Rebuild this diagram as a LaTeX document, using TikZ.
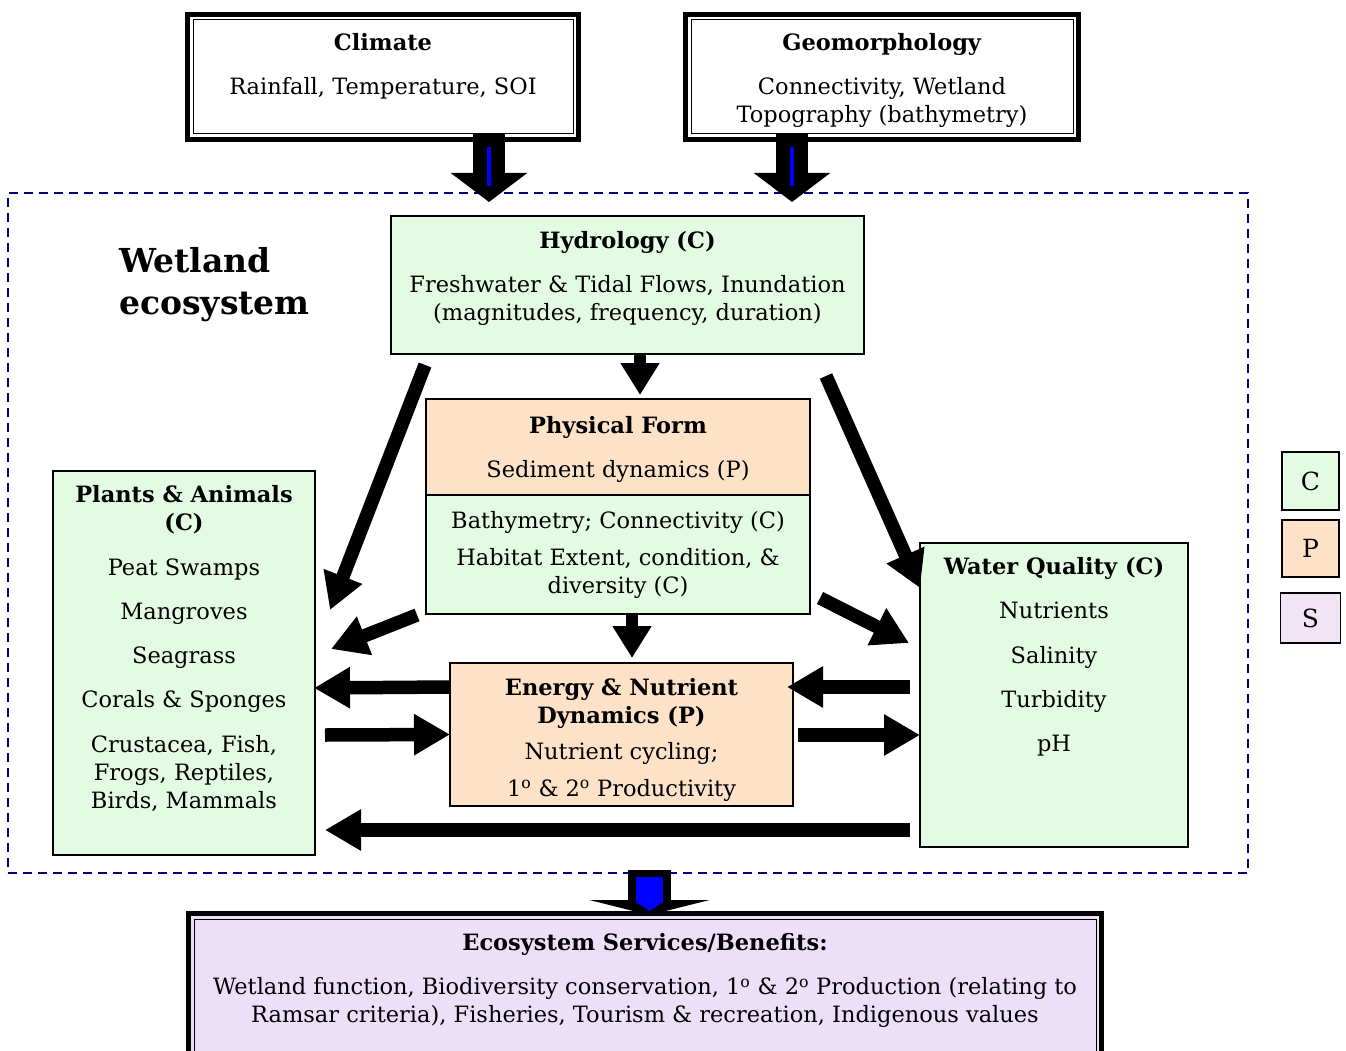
\documentclass[tikz,border=0pt]{standalone}
\usepackage{fontspec}
\setmainfont{DejaVu Serif}
\usetikzlibrary{arrows.meta,positioning,calc}
\definecolor{WetGreen}{HTML}{E2FBE2}
\definecolor{WetOrange}{HTML}{FDE2C8}
\definecolor{WetPurple}{HTML}{ECDFF8}
\definecolor{WetLilac}{HTML}{F1E4F4}
\definecolor{WetNavy}{HTML}{00007F}
\begin{document}
\begin{tikzpicture}[x=1pt,y=-1pt,
  font=\fontsize{22.5}{28}\selectfont,
  box/.style={rectangle,draw=black,line width=1.6pt,anchor=north west,inner sep=0pt,outer sep=0pt,align=center},
  green/.style={box,fill=WetGreen},
  orange/.style={box,fill=WetOrange},
  framed/.style={box,line width=5pt,fill=white},
  legend/.style={box,anchor=center,line width=1.4pt,font=\fontsize{25}{28}\selectfont},
  label/.style={align=center,inner sep=0pt},
  arrow/.style={line width=13.5pt,-{Triangle[length=36pt,width=39pt]}},
  short/.style={line width=12pt,-{Triangle[length=32pt,width=37pt]}},
  fat/.style={line width=32pt,-{Triangle[length=29pt,width=75pt]}},
  stripe/.style={line width=4pt,draw=blue}
]
\clip (0,0) rectangle (1346,1051);
% outer drivers
\node[framed,minimum width=391pt,minimum height=125pt] (climate) at (187.5,14.5) {};
\node[framed,minimum width=393pt,minimum height=125pt] (geo) at (685.5,14.5) {};
\node[label,below=19pt of climate.north] (climateT) {\textbf{Climate}\\[16pt]Rainfall, Temperature, SOI};
\node[label,below=19pt of geo.north] (geoT) {\textbf{Geomorphology}\\[16pt]Connectivity, Wetland\\Topography (bathymetry)};
% wetland ecosystem
\node[box,draw=WetNavy,line width=2.2pt,dash pattern=on 9pt off 6pt,minimum width=1240pt,minimum height=680pt] (eco) at (8,193) {};
\node[label,align=left,anchor=north west,font=\fontsize{33}{42}\selectfont\bfseries] (ecoT) at ($(eco.north west)+(111,54)$) {Wetland\\ecosystem};
\node[green,minimum width=473pt,minimum height=138pt] (hydro) at (391,216) {};
\node[label,below=15pt of hydro.north] (hydroT) {\textbf{Hydrology (C)}\\[16pt]Freshwater \& Tidal Flows, Inundation\\(magnitudes, frequency, duration)};
\node[orange,minimum width=384pt,minimum height=96pt] (formTop) at (426,399) {};
\node[label,below=17pt of formTop.north] (formTopT) {\textbf{Physical Form}\\[16pt]Sediment dynamics (P)};
\node[green,minimum width=384pt,minimum height=119pt] (formBot) at (formTop.south west) {Bathymetry; Connectivity (C)\\[9pt]Habitat Extent, condition, \&\\diversity (C)};
\node[green,minimum width=262pt,minimum height=384pt] (plants) at (53,471) {};
\node[label,below=14pt of plants.north] (plantsT) {\textbf{Plants \& Animals}\\\textbf{(C)}\\[17pt]Peat Swamps\\[16pt]Mangroves\\[16pt]Seagrass\\[16pt]Corals \& Sponges\\[17pt]Crustacea, Fish,\\Frogs, Reptiles,\\Birds, Mammals};
\node[green,minimum width=268pt,minimum height=304pt] (water) at (920,543) {};
\node[label,below=14pt of water.north] (waterT) {\textbf{Water Quality (C)}\\[16pt]Nutrients\\[17pt]Salinity\\[16pt]Turbidity\\[16pt]pH};
\node[orange,minimum width=343pt,minimum height=143pt] (energy) at (450,663) {};
\node[label,below=15pt of energy.north] (energyT) {\textbf{Energy \& Nutrient}\\\textbf{Dynamics (P)}\\[8pt]Nutrient cycling;\\[9pt]1\textsuperscript{o} \& 2\textsuperscript{o} Productivity};
% services
\node[framed,fill=WetPurple,minimum width=913pt,minimum height=160pt] (services) at (188.5,913.5) {};
\node[label,below=20pt of services.north] (servicesT) {\textbf{Ecosystem Services/Benefits:}\\[16pt]Wetland function, Biodiversity conservation, 1\textsuperscript{o} \& 2\textsuperscript{o} Production (relating to\\Ramsar criteria), Fisheries, Tourism \& recreation, Indigenous values};
\foreach \n in {climate,geo,services}
  \draw[line width=1pt] ($(\n.north west)+(5.5,5.5)$) rectangle ($(\n.south east)+(-5.5,-5.5)$);
% legend
\node[legend,fill=WetGreen,minimum width=57pt,minimum height=58pt] (legC) at (1310.5,481) {C};
\node[legend,fill=WetOrange,minimum width=57pt,minimum height=57pt,below=10pt of legC] (legP) {P};
\node[legend,fill=WetLilac,minimum width=60pt,minimum height=50pt,below=16pt of legP] (legS) {S};
% arrows
\draw[fat] ($(climate.south)+(106,-6)$) -- ($(hydro.north west)+(98,-14)$);
\draw[stripe] ($(climate.south)+(106,7.5)$) -- ($(hydro.north west)+(98,-30)$);
\draw[fat] ($(geo.south)+(-90,-6)$) -- ($(hydro.north east)+(-72,-14)$);
\draw[stripe] ($(geo.south)+(-90,7.5)$) -- ($(hydro.north east)+(-72,-30)$);
\draw[short] ($(hydro.south)+(12.5,0)$) -- ($(formTop.north)+(22,-4)$);
\draw[arrow] ($(hydro.south west)+(34,11)$) -- ($(plants.north east)+(15,139)$);
\draw[arrow] ($(hydro.south east)+(-38,22)$) -- ($(water.north west)+(0,45)$);
\draw[arrow] ($(formBot.south west)+(-9,1)$) -- ($(plants.east)+(16,-14)$);
\draw[arrow] ($(formBot.south east)+(10,-16)$) -- ($(water.west)+(-11,-52)$);
\draw[short] ($(formBot.south)+(14,0)$) -- ($(energy.north)+(10.5,-5)$);
\draw[arrow] ($(energy.west)+(0,-47.5)$) -- ($(plants.east)+(-1,25)$);
\draw[arrow] ($(plants.east)+(10,72)$) -- (energy.west);
\draw[arrow] ($(water.west)+(-10,-8)$) -- ($(energy.east)+(-6,-47.5)$);
\draw[arrow] ($(energy.east)+(5,0.5)$) -- ($(water.west)+(0,40)$);
\draw[arrow] ($(water.west)+(-10,135)$) -- ($(plants.east)+(10,167)$);
\draw[line width=43pt,-{Triangle[length=15pt,width=120pt]}] ($(eco.south)+(21.5,-3)$) -- ($(services.north)+(4.5,1.5)$);
\draw[line width=27pt,blue,-{Triangle[length=9pt,width=27pt]}] ($(eco.south)+(21.5,4)$) -- ($(services.north)+(4.5,-2.5)$);
\end{tikzpicture}
\end{document}
